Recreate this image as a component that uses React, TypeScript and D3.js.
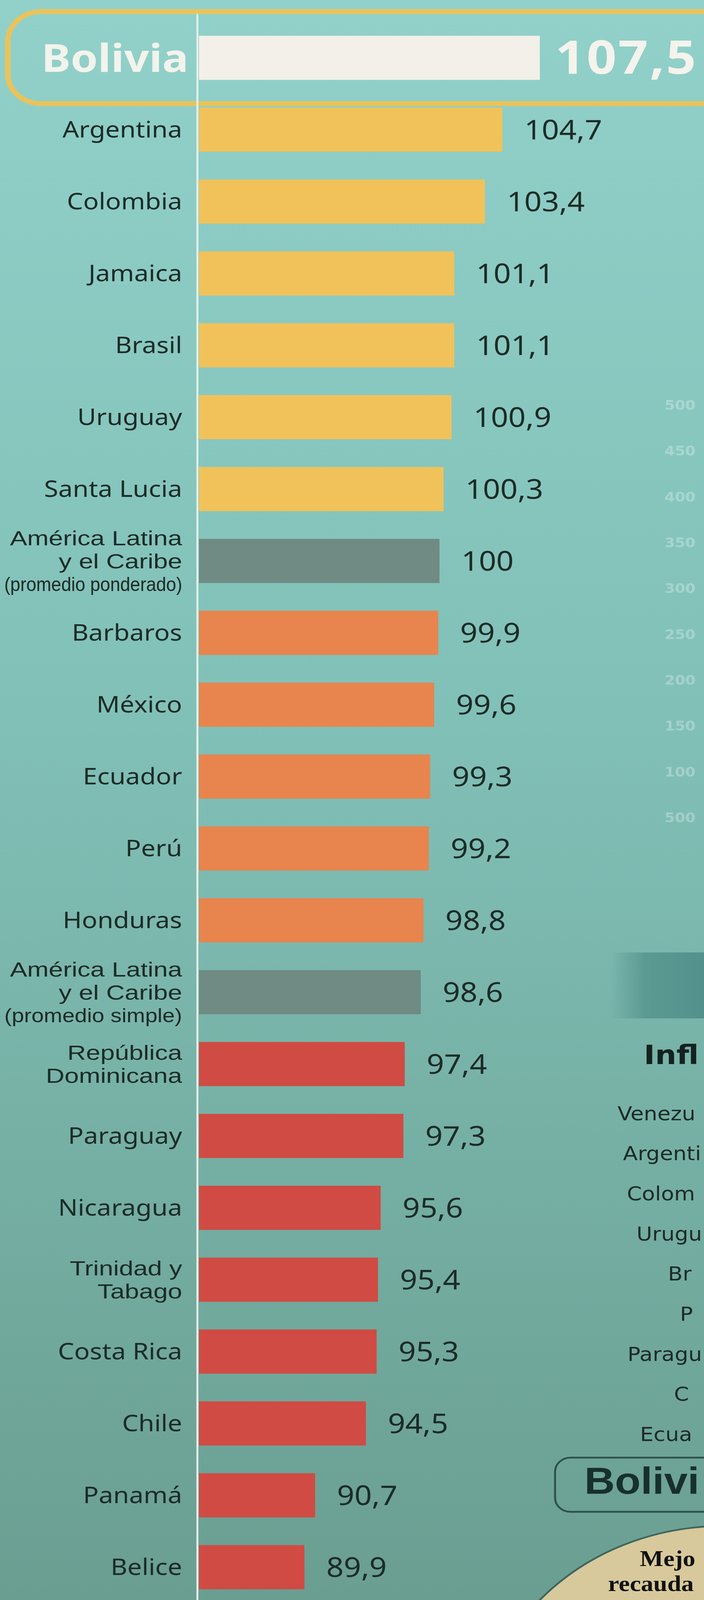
import React, { useEffect, useRef } from 'react';
import * as d3 from 'd3';

// Index values (América Latina y el Caribe, promedio ponderado = 100)
const categories = [
  'Bolivia',
  'Argentina',
  'Colombia',
  'Jamaica',
  'Brasil',
  'Uruguay',
  'Santa Lucia',
  'América Latina\ny el Caribe\n(promedio ponderado)',
  'Barbaros',
  'México',
  'Ecuador',
  'Perú',
  'Honduras',
  'América Latina\ny el Caribe\n(promedio simple)',
  'República\nDominicana',
  'Paraguay',
  'Nicaragua',
  'Trinidad y\nTabago',
  'Costa Rica',
  'Chile',
  'Panamá',
  'Belice'
];

const values = [
  107.5, 104.7, 103.4, 101.1, 101.1, 100.9, 100.3, 100, 99.9, 99.6, 99.3,
  99.2, 98.8, 98.6, 97.4, 97.3, 95.6, 95.4, 95.3, 94.5, 90.7, 89.9
];

const groups = [
  'bolivia', 'alto', 'alto', 'alto', 'alto', 'alto', 'alto', 'promedio',
  'medio', 'medio', 'medio', 'medio', 'medio', 'promedio', 'bajo', 'bajo',
  'bajo', 'bajo', 'bajo', 'bajo', 'bajo', 'bajo'
];

// fragments of the neighbouring chart, cut by the right edge
const sideTicks = ['5000', '4500', '4000', '3500', '3000', '2500', '2000', '1500', '1000', '500'];
const sideCountries = ['Venezuela', 'Argentina', 'Colombia', 'Uruguay', 'Brasil', 'Perú', 'Paraguay', 'Chile', 'Ecuador'];
const sideNote = ['Mejor', 'recaudación'];

const colors: Record<string, string> = {
  bolivia: '#f2f0e8',
  alto: '#f1c25a',
  promedio: '#6f8b83',
  medio: '#e8844d',
  bajo: '#d04b43'
};

const ink = '#1c2b27';
const sans = '"Noto Sans", "Open Sans", sans-serif';
const tight = '"Liberation Sans", Arial, sans-serif';

const fmt = (v: number) => (Number.isInteger(v) ? String(v) : v.toFixed(1).replace('.', ','));

// the page edge cuts the neighbouring chart: keep only the part of a word that is visible
const cutAtEdge = (t: d3.Selection<SVGTextElement, unknown, null, undefined>, full: string, maxX: number) => {
  const node = t.node() as SVGTextElement;
  t.text(full);
  const start = node.getBBox().x;
  t.attr('text-anchor', 'start').attr('x', start);
  let s = full;
  while (s.length > 1 && node.getBBox().x + node.getBBox().width > maxX) {
    s = s.slice(0, -1);
    t.text(s);
  }
  return { start, text: s };
};

const App: React.FC = () => {
  const svgRef = useRef<SVGSVGElement>(null);

  useEffect(() => {
    if (!svgRef.current) return;

    const width = 1801;
    const height = 4608;
    const edge = width - 5;

    // drawn in 1801x4608 units, stretched over the whole window
    const svg = d3.select(svgRef.current)
      .attr('viewBox', `0 0 ${width} ${height}`)
      .attr('preserveAspectRatio', 'none')
      .html('');

    const defs = svg.append('defs');
    const bg = defs.append('linearGradient')
      .attr('id', 'bg')
      .attr('x1', 0).attr('y1', 0).attr('x2', 0).attr('y2', 1);
    bg.append('stop').attr('offset', '0%').attr('stop-color', '#91d1c9');
    bg.append('stop').attr('offset', '45%').attr('stop-color', '#81c0b7');
    bg.append('stop').attr('offset', '100%').attr('stop-color', '#6a9e91');

    const block = defs.append('linearGradient')
      .attr('id', 'block')
      .attr('x1', 0).attr('y1', 0).attr('x2', 1).attr('y2', 0);
    block.append('stop').attr('offset', '0%').attr('stop-color', '#5b9a93').attr('stop-opacity', 0);
    block.append('stop').attr('offset', '35%').attr('stop-color', '#5b9a93').attr('stop-opacity', 1);
    block.append('stop').attr('offset', '100%').attr('stop-color', '#52918b');

    svg.append('rect')
      .attr('width', width)
      .attr('height', height)
      .attr('fill', 'url(#bg)');

    const x = d3.scaleLinear().domain([81.9, 107.5]).range([505, 1381]);
    const y = d3.scaleBand<string>()
      .domain(categories)
      .range([63, 63 + categories.length * 207])
      .paddingInner(0.386)
      .paddingOuter(0.193);

    const rows = categories.map((name, i) => ({ name, value: values[i], group: groups[i] }));
    const cy = (d: { name: string }) => (y(d.name) as number) + y.bandwidth() / 2;

    // ---- neighbouring chart fragments (right edge) ----
    const side = svg.append('g');

    const tickY = d3.scalePoint<string>().domain(sideTicks).range([1166, 2354]);
    sideTicks.forEach(tick => {
      const t = side.append('text')
        .attr('x', 1700)
        .attr('y', (tickY(tick) as number) + 14)
        .style('font-family', '"DejaVu Sans", sans-serif')
        .style('font-size', '38px')
        .style('font-weight', 700)
        .style('fill', '#ffffff')
        .style('fill-opacity', 0.3);
      cutAtEdge(t, tick, edge);
    });

    side.append('rect')
      .attr('x', 1560).attr('y', 2743)
      .attr('width', 260).attr('height', 190)
      .attr('fill', 'url(#block)');

    const title = side.append('text')
      .attr('x', 1647).attr('y', 3064)
      .style('font-family', '"DejaVu Sans", sans-serif')
      .style('font-size', '77px')
      .style('font-weight', 700)
      .style('fill', '#14221f');
    cutAtEdge(title, 'Inflación', edge);

    const listY = d3.scalePoint<string>().domain(sideCountries).range([3226, 4150]);
    sideCountries.forEach(c => {
      const t = side.append('text')
        .attr('x', 1862)
        .attr('y', listY(c) as number)
        .attr('text-anchor', 'end')
        .style('font-family', '"DejaVu Sans", sans-serif')
        .style('font-size', '55px')
        .style('fill', ink);
      cutAtEdge(t, c, edge);
    });

    side.append('rect')
      .attr('x', 1420).attr('y', 4198)
      .attr('width', 600).attr('height', 156)
      .attr('rx', 40)
      .attr('fill', 'none')
      .attr('stroke', '#2d5049')
      .attr('stroke-width', 5);

    const boxLabel = side.append('text')
      .attr('x', 1495).attr('y', 4302)
      .style('font-family', tight)
      .style('font-size', '108px')
      .style('font-weight', 700)
      .style('fill', '#17302b');
    cutAtEdge(boxLabel, 'Bolivia', edge);

    side.append('circle')
      .attr('cx', 1850).attr('cy', 5018).attr('r', 623)
      .attr('fill', '#d7c99b')
      .attr('stroke', '#3d655c')
      .attr('stroke-width', 5);

    // note inside the circle
    const noteY = d3.scalePoint<string>().domain(sideNote).range([4510, 4582]);
    sideNote.forEach(n => {
      const t = side.append('text')
        .attr('x', 1722)
        .attr('y', noteY(n) as number)
        .attr('text-anchor', 'middle')
        .style('font-family', '"Liberation Serif", "DejaVu Serif", serif')
        .style('font-size', '64px')
        .style('font-weight', 700)
        .style('fill', '#111');
      cutAtEdge(t, n, edge);
    });

    // ---- main chart ----
    const g = svg.append('g');

    // highlight frame around Bolivia
    const top = rows[0];
    g.append('rect')
      .attr('x', 20)
      .attr('y', cy(top) - 133)
      .attr('width', 1900)
      .attr('height', 265)
      .attr('rx', 85)
      .attr('fill', 'none')
      .attr('stroke', '#e9c35c')
      .attr('stroke-width', 14);

    // baseline axis
    g.append('line')
      .attr('x1', x.range()[0]).attr('x2', x.range()[0])
      .attr('y1', 40).attr('y2', height)
      .style('stroke', '#e4f1ec')
      .style('stroke-width', 5);

    g.selectAll('.bar')
      .data(rows)
      .enter().append('rect')
      .attr('x', x.range()[0] + 4)
      .attr('y', d => y(d.name) as number)
      .attr('width', d => x(d.value) - x.range()[0] - 4)
      .attr('height', y.bandwidth())
      .attr('fill', d => colors[d.group]);

    // values
    g.selectAll('.value')
      .data(rows)
      .enter().append('text')
      .attr('x', d => x(d.value) + (d.group === 'bolivia' ? 39 : 56))
      .attr('y', d => cy(d) + (d.group === 'bolivia' ? 46 : 28))
      .style('font-family', sans)
      .style('font-size', d => (d.group === 'bolivia' ? '134px' : '78px'))
      .style('font-weight', d => (d.group === 'bolivia' ? 700 : 400))
      .style('letter-spacing', d => (d.group === 'bolivia' ? '4px' : '0px'))
      .style('fill', d => (d.group === 'bolivia' ? '#f4f3ec' : ink))
      .text(d => fmt(d.value));

    // category labels
    const labels = g.selectAll('.label')
      .data(rows)
      .enter().append('g');

    labels.each(function (d) {
      const el = d3.select(this);
      const lines = d.name.split('\n');
      const c = cy(d);
      if (d.group === 'bolivia') {
        el.append('text')
          .attr('x', 482)
          .attr('y', c + 40)
          .attr('text-anchor', 'end')
          .style('font-family', sans)
          .style('font-size', '112px')
          .style('font-weight', 700)
          .style('fill', '#f2f3ec')
          .text(lines[0]);
        return;
      }
      if (lines.length === 1) {
        el.append('text')
          .attr('x', 466)
          .attr('y', c + 23)
          .attr('text-anchor', 'end')
          .style('font-family', sans)
          .style('font-size', '66px')
          .style('fill', ink)
          .text(lines[0]);
        return;
      }
      // stacked labels: compact face, stretched to the width of the single-line labels
      const lineH = 66;
      lines.forEach((line, k) => {
        const t = el.append('text')
          .attr('y', c + (k - (lines.length - 1) / 2) * lineH + 21)
          .style('font-family', tight)
          .style('font-size', line.startsWith('(') ? '56px' : '59px')
          .style('fill', ink)
          .text(line);
        const natural = (t.node() as SVGTextElement).getComputedTextLength();
        const len = line.startsWith('(') ? 455 : natural * 1.12;
        t.attr('x', 466 - len)
          .attr('textLength', len)
          .attr('lengthAdjust', 'spacingAndGlyphs');
      });
    });
  }, []);

  return (
    <div style={{ position: 'absolute', left: 0, top: 0 }}>
      <svg ref={svgRef} style={{ display: 'block', width: '100vw', height: '100vh' }}></svg>
    </div>
  );
};

export default App;
